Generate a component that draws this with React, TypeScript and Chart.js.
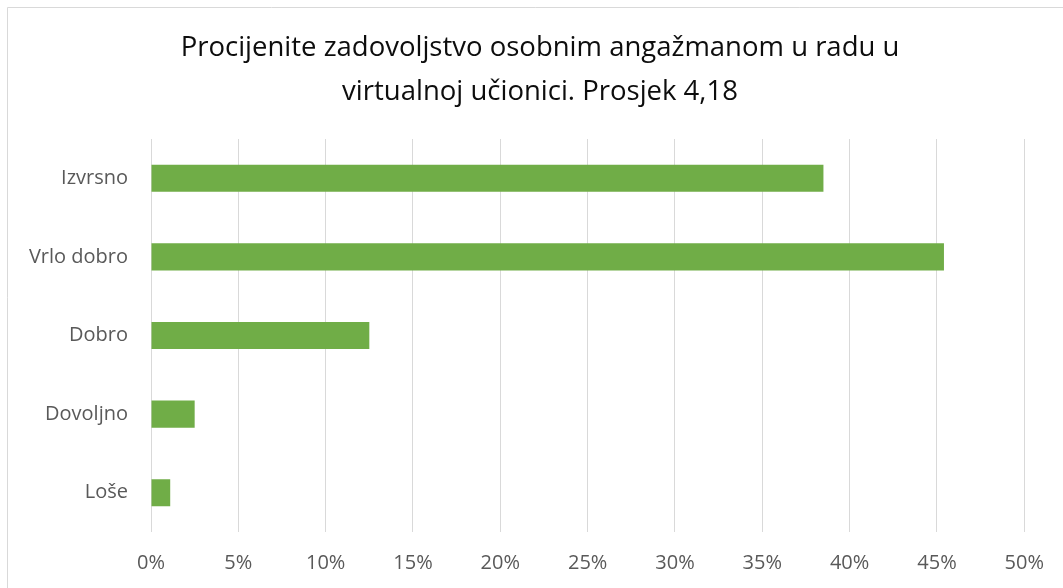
import React, { useEffect, useRef } from "react";
import { Chart, registerables } from "chart.js";

Chart.register(...registerables);

const categories = ["Izvrsno", "Vrlo dobro", "Dobro", "Dovoljno", "Loše"];
const values = [38.5, 45.4, 12.5, 2.5, 1.1];
const titleLines = [
  "Procijenite zadovoljstvo osobnim angažmanom u radu u",
  "virtualnoj učionici. Prosjek 4,18",
];
const tickMin = 0;
const tickMax = 50;
const tickStep = 5;

const borderPlugin = {
  id: "outerBorder",
  beforeDraw(chart: any) {
    const ctx = chart.ctx;
    ctx.save();
    ctx.fillStyle = "#ffffff";
    ctx.fillRect(0, 0, chart.width, chart.height);
    ctx.strokeStyle = "#d9d9d9";
    ctx.lineWidth = 1;
    ctx.beginPath();
    ctx.moveTo(7.5, chart.height);
    ctx.lineTo(7.5, 7.5);
    ctx.lineTo(chart.width, 7.5);
    ctx.stroke();
    ctx.restore();
  },
};

const titlePlugin = {
  id: "centeredTitle",
  afterDraw(chart: any) {
    const ctx = chart.ctx;
    ctx.save();
    ctx.fillStyle = "#0d0d0d";
    ctx.font = "27.5px 'Open Sans'";
    ctx.textAlign = "center";
    ctx.textBaseline = "middle";
    const cx = 540;
    titleLines.forEach((line, i) => {
      ctx.fillText(line, cx, 48 + i * 44);
    });
    ctx.restore();
  },
};

export default function App() {
  const ref = useRef<HTMLCanvasElement | null>(null);
  useEffect(() => {
    if (!ref.current) return;
    const chart = new Chart(ref.current, {
      type: "bar",
      data: {
        labels: categories,
        datasets: [
          {
            data: values,
            backgroundColor: "#70AD47",
            borderWidth: 0,
            barPercentage: 0.345,
            categoryPercentage: 1,
          },
        ],
      },
      options: {
        indexAxis: "y",
        animation: false,
        responsive: false,
        maintainAspectRatio: false,
        devicePixelRatio: 1,
        layout: { padding: { left: 0, right: 38, top: 139, bottom: 0 } },
        plugins: {
          legend: { display: false },
          tooltip: { enabled: false },
          title: { display: false },
        },
        scales: {
          x: {
            min: tickMin,
            max: tickMax,
            ticks: {
              stepSize: tickStep,
              padding: 19,
              color: "#595959",
              font: { family: "'Open Sans'", size: 20 },
              callback: (v: any) => v + "%",
            },
            grid: { color: "#d9d9d9", lineWidth: 1, drawTicks: false },
            border: { display: false },
            afterFit: (scale: any) => {
              scale.height = 56;
            },
          },
          y: {
            ticks: {
              padding: 23,
              color: "#595959",
              font: { family: "'Open Sans'", size: 20 },
            },
            grid: { display: false, drawTicks: false },
            border: { display: false },
            afterFit: (scale: any) => {
              scale.width = 151;
            },
          },
        },
      },
      plugins: [borderPlugin, titlePlugin],
    });
    return () => chart.destroy();
  }, []);
  return (
    <div style={{ position: "fixed", left: 0, top: 0, width: 1063, height: 588, background: "#fff" }}>
      <canvas ref={ref} width={1063} height={588} style={{ width: 1063, height: 588 }} />
    </div>
  );
}
